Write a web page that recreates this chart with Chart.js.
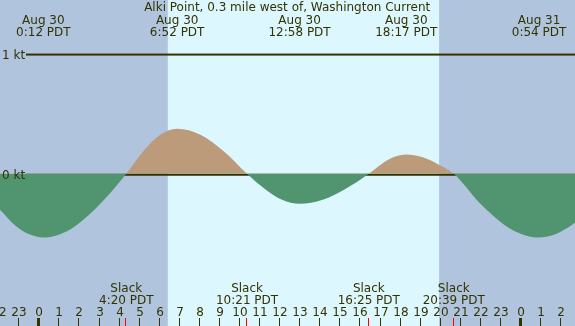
<!DOCTYPE html>
<html>
<head>
<meta charset="utf-8">
<script src="https://cdn.jsdelivr.net/npm/chart.js@4"></script>
<style>
  html, body { margin: 0; padding: 0; background: #b0c4de; }
  #wrap { width: 575px; height: 326px; }
</style>
</head>
<body>
<div id="wrap"><canvas id="chart" width="575" height="326"></canvas></div>
<script>
// hours from midnight Aug 30 (PDT), current speed in knots (+ flood, - ebb)
const hours  = [-1.96, -1.2, -0.5, 0.2, 1.578, 2.955, 4.333, 5.178, 6.022, 6.867, 8.028, 9.189, 10.35,
                11.222, 12.095, 12.967, 14.117, 15.267, 16.417, 17.039, 17.661, 18.283, 19.072, 19.861, 20.65,
                22.067, 23.483, 24.9, 25.6, 26.3, 26.69];
const speeds = [-0.30, -0.43, -0.504, -0.53, -0.459, -0.265, 0, 0.188, 0.325, 0.375, 0.325, 0.188, 0,
                -0.125, -0.217, -0.25, -0.217, -0.125, 0, 0.08, 0.139, 0.16, 0.139, 0.08, 0,
                -0.265, -0.459, -0.53, -0.51, -0.452, -0.405];

// max / min current events
const eventHours = [0.2, 6.867, 12.967, 18.283, 24.9];
const eventDates = ["Aug 30", "Aug 30", "Aug 30", "Aug 30", "Aug 31"];
const eventTimes = ["0:12 PDT", "6:52 PDT", "12:58 PDT", "18:17 PDT", "0:54 PDT"];

// slack water
const slackHours = [4.333, 10.35, 16.417, 20.65];
const slackTimes = ["4:20 PDT", "10:21 PDT", "16:25 PDT", "20:39 PDT"];

// sunrise / sunset
const sunHours = [6.40, 19.92];

const hourTicks = [];
for (let h = -2; h <= 26; h++) hourTicks.push(h);

const title = "Alki Point, 0.3 mile west of, Washington Current";
const levelValues = [1, 0];
const levelLabels = ["1 kt", "0 kt"];

const ink = "#333300";
const font = "12px 'DejaVu Sans', sans-serif";

const tidePlugin = {
    id: "tide",
    beforeDatasetsDraw(chart) {
        const c = chart.ctx;
        const x = chart.scales.x;
        const y = chart.scales.y;
        const a = chart.chartArea;
        c.save();
        c.fillStyle = "#b0c4de";
        c.fillRect(a.left, a.top, a.right - a.left, a.bottom - a.top);
        const x1 = x.getPixelForValue(sunHours[0]);
        const x2 = x.getPixelForValue(sunHours[1]);
        c.fillStyle = "#ddf7ff";
        c.fillRect(x1, a.top, x2 - x1, a.bottom - a.top);
        c.fillStyle = ink;
        levelValues.forEach(v => {
            const py = y.getPixelForValue(v);
            c.fillRect(26, py, a.right - 26, 2);
        });
        c.restore();
    },
    afterDraw(chart) {
        const c = chart.ctx;
        const x = chart.scales.x;
        const y = chart.scales.y;
        c.save();
        c.font = font;
        c.fillStyle = ink;
        c.textBaseline = "alphabetic";

        c.textAlign = "center";
        c.fillText(title, x.getPixelForValue(12.35), 11);

        eventHours.forEach((h, i) => {
            const px = x.getPixelForValue(h);
            c.fillText(eventDates[i], px, 24);
            c.fillText(eventTimes[i], px, 36);
        });

        slackHours.forEach((h, i) => {
            const px = x.getPixelForValue(h);
            c.fillText("Slack", px, 292);
            c.fillText(slackTimes[i], px, 304);
        });

        hourTicks.forEach(h => {
            const px = Math.round(x.getPixelForValue(h));
            c.fillText(String(((h % 24) + 24) % 24), px, 316);
            if (h % 24 === 0) {
                c.fillRect(px - 2, 318, 3, 8);
            } else {
                c.fillRect(px - 1, 318, 1, 8);
            }
        });

        c.fillStyle = "#ff0000";
        slackHours.forEach(h => {
            const px = Math.round(x.getPixelForValue(h));
            c.fillRect(px - 1, 318, 1, 8);
        });

        c.fillStyle = ink;
        c.textAlign = "left";
        levelValues.forEach((v, i) => {
            const py = y.getPixelForValue(v);
            c.fillText(levelLabels[i], 2, py + 5);
        });
        c.restore();
    }
};

const ctx = document.getElementById("chart");

const config = {
    type: "line",
    data: {
        datasets: [{
            data: hours.map((h, i) => ({ x: h, y: speeds[i] })),
            borderColor: "rgba(0,0,0,0)",
            pointRadius: 0,
            cubicInterpolationMode: "monotone",
            fill: {
                target: "origin",
                above: "rgb(188,155,123)",
                below: "rgb(80,149,112)"
            }
        }]
    },
    options: {
        responsive: false,
        animation: false,
        layout: { padding: 0 },
        plugins: {
            legend: { display: false },
            tooltip: { enabled: false }
        },
        scales: {
            x: { type: "linear", min: -1.96, max: 26.69, display: false },
            y: { type: "linear", min: -1.2667, max: 1.4458, display: false }
        }
    },
    plugins: [tidePlugin]
};
const chartLine = new Chart(ctx, config);
</script>
</body>
</html>
